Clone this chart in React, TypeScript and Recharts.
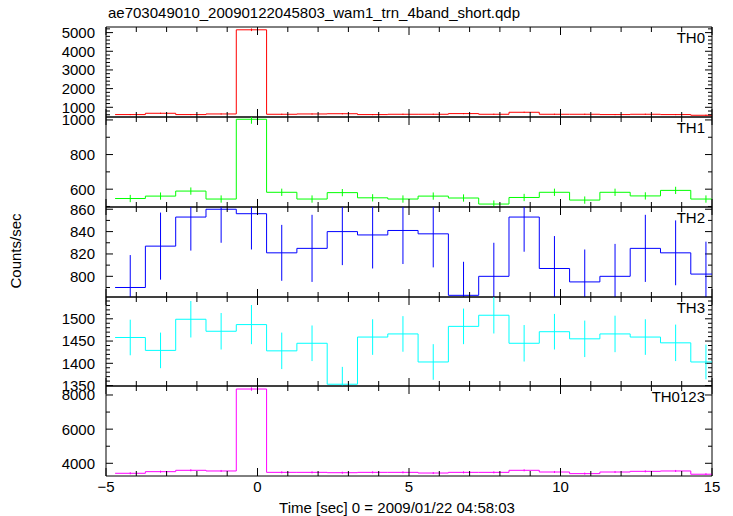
import { ComposedChart, Line, Scatter, ErrorBar, XAxis, YAxis, ReferenceArea } from 'recharts';

const FONT = '"Liberation Sans", Arial, Helvetica, sans-serif';
const CHART_W = 733;
const PLOT_LEFT = 106;
const PLOT_RIGHT = 712;
const PLOT_W = PLOT_RIGHT - PLOT_LEFT;

// time bins (sec), 1 s wide
const binCenters = [-4.2, -3.2, -2.2, -1.2, -0.2, 0.8, 1.8, 2.8, 3.8, 4.8, 5.8, 6.8, 7.8, 8.8, 9.8, 10.8, 11.8, 12.8, 13.8, 14.8];
const binHalfWidth = 0.5;
const timeTicks = [-5, -4, -3, -2, -1, 0, 1, 2, 3, 4, 5, 6, 7, 8, 9, 10, 11, 12, 13, 14, 15];
const timeLabels = [-5, 0, 5, 10, 15];

const th0Rate = [609, 680, 609, 643, 5150, 626, 643, 655, 609, 626, 626, 662, 626, 733, 626, 626, 609, 626, 609, 573];
const th0Err = [30, 30, 30, 30, 70, 30, 30, 30, 30, 30, 30, 30, 30, 30, 30, 30, 30, 30, 30, 30];
const th1Rate = [546, 560, 589, 543, 1004, 582, 543, 580, 550, 543, 560, 549, 514, 552, 582, 537, 582, 561, 593, 543];
const th1Err = [21, 21, 21, 21, 26, 21, 21, 21, 21, 21, 21, 21, 21, 21, 21, 21, 21, 21, 21, 21];
const th2Rate = [790, 827, 853, 860, 856, 821, 825, 840, 837, 841, 838, 783, 800, 853, 807, 795, 800, 825, 821, 802];
const th2Err = [29, 30, 30, 30, 32, 25, 30, 30, 30, 30, 30, 30, 30, 31, 29, 29, 29, 30, 29, 29];
const th3Rate = [1458, 1429, 1499, 1472, 1487, 1428, 1445, 1353, 1459, 1466, 1403, 1483, 1508, 1445, 1471, 1455, 1466, 1459, 1446, 1403];
const th3Err = [40, 40, 41, 41, 44, 41, 40, 39, 40, 40, 40, 40, 41, 41, 40, 41, 41, 40, 41, 39];
const th0123Rate = [3415, 3510, 3590, 3550, 8350, 3470, 3470, 3450, 3470, 3470, 3430, 3470, 3470, 3590, 3490, 3395, 3490, 3530, 3550, 3360];
const th0123Err = [60, 60, 60, 60, 100, 60, 60, 60, 60, 60, 60, 60, 60, 60, 60, 60, 60, 60, 60, 60];

const th0Labels = [1000, 2000, 3000, 4000, 5000];
const th1Labels = [600, 800, 1000];
const th2Labels = [800, 820, 840, 860];
const th3Labels = [1350, 1400, 1450, 1500];
const th0123Labels = [4000, 6000, 8000];

function range(lo: number, hi: number, step: number) {
  const out: number[] = [];
  for (let v = lo; v <= hi + 1e-9; v += step) out.push(Math.round(v * 1000) / 1000);
  return out;
}

function stepData(values: number[]) {
  const pts = binCenters.map((c, i) => ({ t: c - binHalfWidth, v: values[i] }));
  const last = binCenters.length - 1;
  pts.push({ t: binCenters[last] + binHalfWidth, v: values[last] });
  return pts;
}

function errData(values: number[], errs: number[]) {
  return binCenters.map((c, i) => ({ t: c, v: values[i], e: errs[i] }));
}

const panels = [
  { name: 'TH0', rate: th0Rate, err: th0Err, color: '#ff0000', domain: [480, 5300], ticks: range(600, 5200, 200), labels: th0Labels, top: 27, height: 90 },
  { name: 'TH1', rate: th1Rate, err: th1Err, color: '#00ff00', domain: [497, 1017], ticks: range(500, 1000, 100), labels: th1Labels, top: 117, height: 90 },
  { name: 'TH2', rate: th2Rate, err: th2Err, color: '#0000ff', domain: [781.5, 862], ticks: range(790, 860, 10), labels: th2Labels, top: 207, height: 90 },
  { name: 'TH3', rate: th3Rate, err: th3Err, color: '#00ffff', domain: [1349, 1549], ticks: range(1350, 1540, 10), labels: th3Labels, top: 297, height: 89 },
  { name: 'TH0123', rate: th0123Rate, err: th0123Err, color: '#ff00ff', domain: [3256, 8527], ticks: range(4000, 8000, 1000), labels: th0123Labels, top: 386, height: 90 },
];

function EmptyShape() {
  return <g />;
}

function TimeTick(props: any) {
  const { x, y, payload, plotHeight, showLabel } = props;
  const v = payload.value;
  const major = timeLabels.includes(v);
  const len = major ? 8 : 5;
  return (
    <g>
      <line x1={x} y1={y} x2={x} y2={y - len} stroke="#000" />
      <line x1={x} y1={y - plotHeight} x2={x} y2={y - plotHeight + len} stroke="#000" />
      {showLabel && major && (
        <text x={x} y={y + 15.5} textAnchor="middle" fontSize={15} fontFamily={FONT} fill="#000">
          {v < 0 ? '\u2212' + Math.abs(v) : String(v)}
        </text>
      )}
    </g>
  );
}

function RateTick(props: any) {
  const { x, y, payload, labels } = props;
  const v = payload.value;
  const major = labels.includes(v);
  const len = major ? 7 : 4;
  return (
    <g>
      <line x1={x} y1={y} x2={x + len} y2={y} stroke="#000" />
      <line x1={x + PLOT_W} y1={y} x2={x + PLOT_W - len} y2={y} stroke="#000" />
      {major && (
        <text x={x - 11} y={y + 5.4} textAnchor="end" fontSize={15} fontFamily={FONT} fill="#000">
          {v}
        </text>
      )}
    </g>
  );
}

function Panel({ p, last }: { p: (typeof panels)[number]; last: boolean }) {
  const padTop = 20;
  const padBottom = last ? 30 : 20;
  return (
    <div style={{ position: 'absolute', left: 0, top: p.top - padTop }}>
      <ComposedChart
        width={CHART_W}
        height={p.height + padTop + padBottom}
        margin={{ top: padTop, right: CHART_W - PLOT_RIGHT, bottom: padBottom - 1, left: PLOT_LEFT - 1 }}
      >
        <XAxis
          type="number"
          dataKey="t"
          domain={[-5, 15]}
          ticks={timeTicks}
          interval={0}
          allowDataOverflow
          height={1}
          tickSize={0}
          tickMargin={0}
          axisLine={false}
          tickLine={false}
          tick={(tp: any) => <TimeTick {...tp} plotHeight={p.height} showLabel={last} />}
        />
        <YAxis
          type="number"
          dataKey="v"
          domain={p.domain}
          ticks={p.ticks}
          interval={0}
          allowDataOverflow
          width={1}
          tickSize={0}
          tickMargin={0}
          axisLine={false}
          tickLine={false}
          tick={(tp: any) => <RateTick {...tp} labels={p.labels} />}
        />
        <Line
          data={stepData(p.rate)}
          dataKey="v"
          type="stepAfter"
          stroke={p.color}
          strokeWidth={1}
          dot={false}
          activeDot={false}
          isAnimationActive={false}
        />
        <ReferenceArea x1={-5} x2={15} y1={p.domain[0]} y2={p.domain[1]} fill="none" stroke="#000" strokeWidth={1} fillOpacity={0} />
      </ComposedChart>
      {/* error bars, clipped to the plot box */}
      <div style={{ position: 'absolute', left: PLOT_LEFT, top: padTop, width: PLOT_W, height: p.height, overflow: 'hidden' }}>
        <ComposedChart width={PLOT_W} height={p.height} margin={{ top: 0, right: 0, bottom: 0, left: 0 }}>
          <XAxis type="number" dataKey="t" domain={[-5, 15]} allowDataOverflow hide />
          <YAxis type="number" dataKey="v" domain={p.domain} allowDataOverflow hide />
          <Scatter data={errData(p.rate, p.err)} dataKey="v" shape={EmptyShape} isAnimationActive={false}>
            <ErrorBar dataKey="e" direction="y" width={0} stroke={p.color} strokeWidth={1} isAnimationActive={false} />
          </Scatter>
        </ComposedChart>
      </div>
      <div
        style={{
          position: 'absolute',
          right: CHART_W - 705,
          top: padTop + 2,
          fontFamily: FONT,
          fontSize: 15,
          lineHeight: '17px',
          color: '#000',
        }}
      >
        {p.name}
      </div>
    </div>
  );
}

export default function App() {
  return (
    <div style={{ position: 'absolute', left: 0, top: 0, width: CHART_W, height: 516, background: '#fff', overflow: 'hidden' }}>
      {panels.map((p, i) => (
        <Panel key={p.name} p={p} last={i === panels.length - 1} />
      ))}
      <svg width={CHART_W} height={516} style={{ position: 'absolute', left: 0, top: 0, pointerEvents: 'none' }}>
        <text x={108} y={18} fontSize={15} fontFamily={FONT} fill="#000">
          ae703049010_20090122045803_wam1_trn_4band_short.qdp
        </text>
        <text x={397} y={512.5} textAnchor="middle" fontSize={15} fontFamily={FONT} fill="#000">
          Time [sec] 0 = 2009/01/22 04:58:03
        </text>
        <text transform="translate(21, 251) rotate(-90)" textAnchor="middle" fontSize={15} fontFamily={FONT} fill="#000">
          Counts/sec
        </text>
      </svg>
    </div>
  );
}
